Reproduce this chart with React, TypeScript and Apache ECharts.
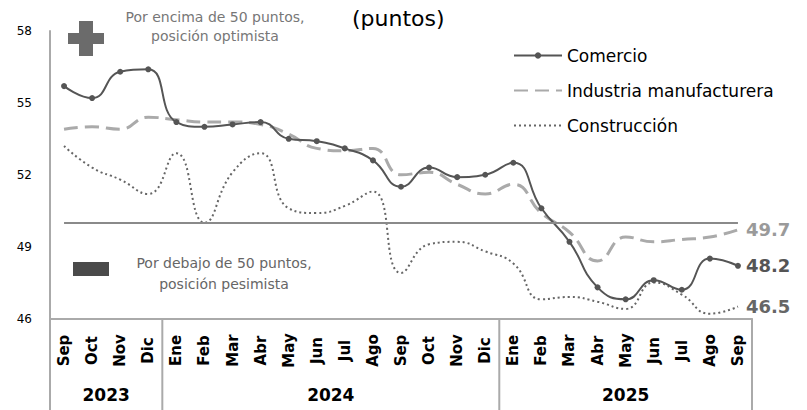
import React, { useEffect, useRef } from "react";
import * as echarts from "echarts";

const months = ["Sep","Oct","Nov","Dic","Ene","Feb","Mar","Abr","May","Jun","Jul","Ago","Sep","Oct","Nov","Dic","Ene","Feb","Mar","Abr","May","Jun","Jul","Ago","Sep"];
const years = ["2023", "2024", "2025"];
const monthsPerYear = [4, 12, 9];
const comercio = [55.7,55.2,56.3,56.4,54.2,54.0,54.1,54.2,53.5,53.4,53.1,52.6,51.5,52.3,51.9,52.0,52.5,50.6,49.2,47.3,46.8,47.6,47.2,48.5,48.2];
const industria = [53.9,54.0,53.9,54.4,54.3,54.2,54.2,54.1,53.7,53.1,53.0,53.1,52.0,52.1,51.6,51.2,51.6,50.4,49.6,48.4,49.4,49.2,49.3,49.4,49.7];
const construccion = [53.2,52.3,51.8,51.2,52.9,50.0,52.1,52.9,50.6,50.4,50.7,51.3,47.9,49.1,49.2,48.8,48.3,46.8,46.9,46.7,46.4,47.5,47.0,46.2,46.5];
const threshold = 50;
const yMin = 46;
const yMax = 58;
const yStep = 3;
const seriesNames = ["Comercio", "Industria manufacturera", "Construcción"];
const titleText = "(puntos)";
const aboveText = "Por encima de 50 puntos,\nposición optimista";
const belowText = "Por debajo de 50 puntos,\nposición pesimista";

const FONT = "DejaVu Sans";

export default function App() {
  const ref = useRef<HTMLDivElement>(null);
  useEffect(() => {
    document.body.style.margin = "0";
    const chart = echarts.init(ref.current!, undefined, { renderer: "svg" });
    const endLabel = (color: string) => ({
      show: true,
      distance: 8,
      formatter: (p: any) => Number(p.value).toFixed(1),
      color,
      fontFamily: FONT,
      fontWeight: "bold",
      fontSize: 18,
    });
    const option: any = {
      animation: false,
      backgroundColor: "#ffffff",
      grid: { left: 50, right: 55, top: 31, bottom: 91.5, containLabel: false },
      legend: {
        orient: "vertical",
        left: 513,
        top: 47,
        padding: 0,
        itemWidth: 48,
        itemHeight: 8,
        itemGap: 18,
        textStyle: { fontFamily: FONT, fontSize: 17, color: "#000" },
        data: [
          { name: seriesNames[0] },
          { name: seriesNames[1], itemStyle: { opacity: 0 } },
          { name: seriesNames[2], itemStyle: { opacity: 0 } },
        ],
      },
      xAxis: {
        type: "category",
        data: months,
        boundaryGap: true,
        axisLine: { show: true, lineStyle: { color: "#aaaaaa", width: 2 } },
        axisTick: { show: false },
        axisLabel: {
          rotate: 90,
          align: "center",
          verticalAlign: "middle",
          margin: 32,
          interval: 0,
          fontFamily: FONT,
          fontWeight: "bold",
          fontSize: 15,
          color: "#000",
        },
        splitLine: { show: false },
      },
      yAxis: {
        type: "value",
        min: yMin,
        max: yMax,
        interval: yStep,
        axisLine: { show: true, lineStyle: { color: "#aaaaaa", width: 2 } },
        axisTick: { show: false },
        axisLabel: { margin: 18, fontFamily: FONT, fontSize: 12, color: "#000" },
        splitLine: { show: false },
      },
      series: [
        {
          name: seriesNames[0],
          type: "line",
          data: comercio,
          smooth: true,
          symbol: "circle",
          symbolSize: 6,
          showSymbol: true,
          itemStyle: { color: "#555555" },
          lineStyle: { color: "#555555", width: 2 },
          endLabel: endLabel("#555555"),
          z: 4,
          markLine: {
            silent: true,
            symbol: "none",
            label: { show: false },
            lineStyle: { color: "#8a8a8a", width: 2, type: "solid" },
            data: [[{ coord: [0, threshold] }, { coord: [months.length - 1, threshold] }]],
          },
        },
        {
          name: seriesNames[1],
          type: "line",
          data: industria,
          smooth: true,
          showSymbol: false,
          symbol: "none",
          itemStyle: { color: "#aaaaaa" },
          lineStyle: { color: "#aaaaaa", width: 3, type: [14, 7] },
          endLabel: endLabel("#9a9a9a"),
          z: 3,
        },
        {
          name: seriesNames[2],
          type: "line",
          data: construccion,
          smooth: true,
          showSymbol: false,
          symbol: "none",
          itemStyle: { color: "#666666" },
          lineStyle: { color: "#666666", width: 2, type: [2, 3] },
          endLabel: endLabel("#666666"),
          z: 2,
        },
      ],
    };
    chart.setOption(option);

    const px = (i: number) => chart.convertToPixel({ xAxisIndex: 0 }, i) as number;
    const band = px(1) - px(0);
    const axisY = chart.convertToPixel({ yAxisIndex: 0 }, yMin) as number;
    const graphics: any[] = [];
    let start = 0;
    const bounds: number[] = [];
    years.forEach((yr, k) => {
      const end = start + monthsPerYear[k] - 1;
      const left = px(start) - band / 2;
      const right = px(end) + band / 2;
      bounds.push(left);
      if (k === years.length - 1) bounds.push(right);
      graphics.push({
        type: "text",
        style: {
          text: yr,
          x: (left + right) / 2,
          y: 395,
          textAlign: "center",
          textVerticalAlign: "middle",
          fontFamily: FONT,
          fontWeight: "bold",
          fontSize: 17,
          fill: "#000",
        },
      });
      start = end + 1;
    });
    bounds.forEach((b) => {
      graphics.push({
        type: "line",
        shape: { x1: b, y1: axisY, x2: b, y2: 410 },
        style: { stroke: "#aaaaaa", lineWidth: 2 },
      });
    });
    // title fragment
    graphics.push({
      type: "text",
      style: { text: titleText, x: 352, y: 18, textVerticalAlign: "middle", fontFamily: FONT, fontSize: 22, fill: "#000" },
    });
    // plus sign
    graphics.push({ type: "rect", shape: { x: 79, y: 21, width: 14, height: 35 }, style: { fill: "#6b6b6b" } });
    graphics.push({ type: "rect", shape: { x: 68, y: 33, width: 36, height: 11 }, style: { fill: "#6b6b6b" } });
    graphics.push({
      type: "text",
      style: {
        text: aboveText, x: 215, y: 7, textAlign: "center", lineHeight: 19,
        fontFamily: FONT, fontSize: 14, fill: "#777777",
      },
    });
    // minus box
    graphics.push({ type: "rect", shape: { x: 73, y: 262, width: 36, height: 14 }, style: { fill: "#4a4a4a" } });
    graphics.push({
      type: "text",
      style: {
        text: belowText, x: 224, y: 252, textAlign: "center", lineHeight: 21,
        fontFamily: FONT, fontSize: 14, fill: "#666666",
      },
    });
    chart.setOption({ graphic: graphics });
    return () => chart.dispose();
  }, []);
  return <div ref={ref} style={{ position: "fixed", left: 0, top: 0, width: 807, height: 410 }} />;
}
